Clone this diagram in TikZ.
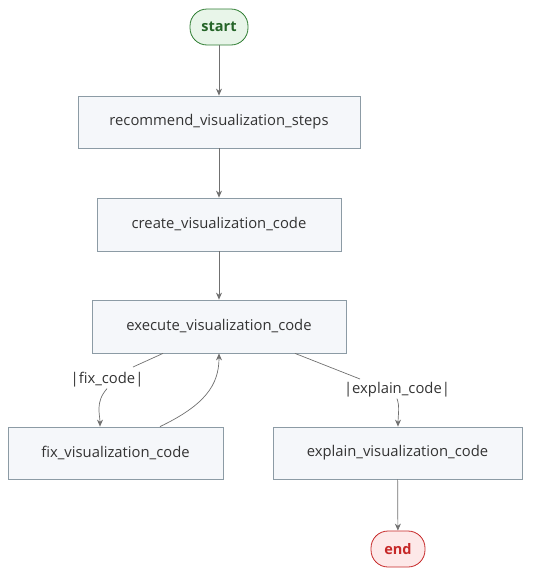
\documentclass[tikz,border=0pt]{standalone}
\usepackage{fontspec}
\setmainfont{Open Sans}
\usetikzlibrary{arrows.meta}
\definecolor{boxfill}{HTML}{F5F7FA}
\definecolor{boxdraw}{HTML}{8C9BA5}
\definecolor{txt}{HTML}{333333}
\definecolor{edge}{HTML}{707070}
\definecolor{startfill}{HTML}{E8F5E9}
\definecolor{startdraw}{HTML}{2E7D32}
\definecolor{endfill}{HTML}{FDE8E8}
\definecolor{enddraw}{HTML}{C62828}
\tikzset{
  stepbox/.style={draw=boxdraw, fill=boxfill, line width=0.8pt, text=txt, font=\fontsize{14.8}{17}\selectfont, inner sep=0pt, anchor=center},
  term/.style={rounded corners=17pt, line width=0.8pt, minimum width=58pt, minimum height=36pt, inner sep=0pt, font=\bfseries\fontsize{14.5}{17}\selectfont},
  conn/.style={draw=edge, line width=0.7pt, -{Stealth[length=7pt,width=6pt]}},
  lab/.style={text=txt, font=\fontsize{14.8}{17}\selectfont, inner sep=1pt}
}
\begin{document}
\begin{tikzpicture}[x=1pt,y=-1pt]
\useasboundingbox (0,0) rectangle (538,584);
\node[term, draw=startdraw, fill=startfill, text=startdraw!80!black] (start) at (219,27) {start};
\node[stepbox, minimum width=282pt, minimum height=52pt] (rec) at (219,122) {recommend\_visualization\_steps};
\node[stepbox, minimum width=244pt, minimum height=53pt] (cre) at (219,224.5) {create\_visualization\_code};
\node[stepbox, minimum width=254pt, minimum height=53pt] (exe) at (219,326.5) {execute\_visualization\_code};
\node[stepbox, minimum width=215pt, minimum height=52pt] (fix) at (115.5,453) {fix\_visualization\_code};
\node[stepbox, minimum width=249pt, minimum height=52pt] (exp) at (397.5,453) {explain\_visualization\_code};
\node[term, draw=enddraw, fill=endfill, minimum width=54pt, text=enddraw] (end) at (398,549) {end};
\node[lab] (lfix) at (107,380) {|fix\_code|};
\node[lab] (lexp) at (397,390) {|explain\_code|};
\coordinate (fixend) at (133,367);
\coordinate (expend) at (360,379);
\draw[conn] (start) -- (rec);
\draw[conn] (rec) -- (cre);
\draw[conn] (cre) -- (exe);
\draw[draw=edge, line width=0.7pt] ([xshift=-56pt]exe.south) -- (fixend);
\draw[conn] (lfix.south) .. controls (95,402) and (100,415) .. ([xshift=-15.5pt]fix.north);
\draw[conn] ([xshift=44.5pt]fix.north) .. controls (205,405) and (219,385) .. (exe.south);
\draw[draw=edge, line width=0.7pt] ([xshift=76pt]exe.south) -- (expend);
\draw[conn] (lexp.south) .. controls (400,407) and (398,415) .. ([xshift=0.5pt]exp.north);
\draw[conn] (exp) -- (end);
\end{tikzpicture}
\end{document}
